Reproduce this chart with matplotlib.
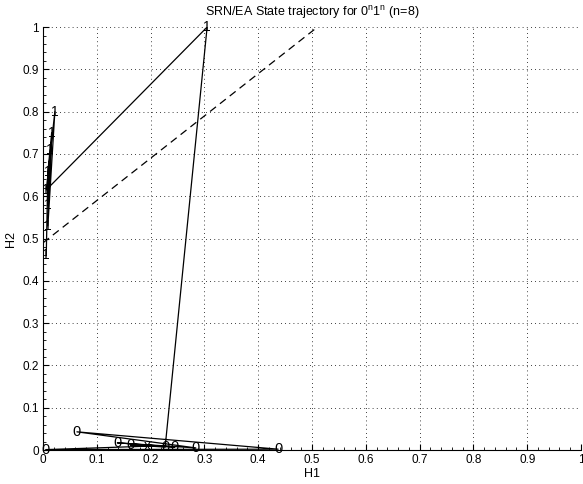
import matplotlib
matplotlib.use("Agg")
import matplotlib.pyplot as plt
from matplotlib.ticker import MultipleLocator

plt.rcParams['font.family'] = ['Liberation Sans', 'DejaVu Sans']

# trajectory states (H1, H2) and the symbol drawn at each
start_h1 = [0.193]
start_h2 = [0.009]
zero_h1 = [0.005, 0.437, 0.063, 0.284, 0.138, 0.245, 0.162, 0.227]
zero_h2 = [0.001, 0.002, 0.043, 0.005, 0.017, 0.007, 0.012, 0.007]
one_h1 = [0.305, 0.006, 0.022, 0.009, 0.016, 0.009, 0.013, 0.009, 0.006]
one_h2 = [1.000, 0.615, 0.800, 0.530, 0.750, 0.580, 0.710, 0.657, 0.460]

# dashed boundary line
bound_h1 = [0.0, 0.51]
bound_h2 = [0.49, 1.0]

ticks = [0, 0.1, 0.2, 0.3, 0.4, 0.5, 0.6, 0.7, 0.8, 0.9, 1]
tick_labels = ['0', '0.1', '0.2', '0.3', '0.4', '0.5', '0.6', '0.7', '0.8', '0.9', '1']

fig = plt.figure(figsize=(5.83, 4.84), dpi=100)
ax = fig.add_axes([0.0738, 0.0702, 0.9228, 0.8738])

h1 = start_h1 + zero_h1 + one_h1
h2 = start_h2 + zero_h2 + one_h2
ax.plot(h1, h2, color='black', lw=0.9)
ax.plot(bound_h1, bound_h2, color='black', lw=0.9, linestyle=(0, (6, 4)))

for x, y in zip(start_h1, start_h2):
    ax.text(x, y, 'x', ha='center', va='center', fontsize=10)
for x, y in zip(zero_h1, zero_h2):
    ax.text(x, y, '0', ha='center', va='center', fontsize=10.5)
for x, y in zip(one_h1, one_h2):
    ax.text(x, y, '1', ha='center', va='center', fontsize=10)

ax.set_xlim(0, 1)
ax.set_ylim(0, 1)
ax.set_xticks(ticks)
ax.set_xticklabels(tick_labels)
ax.set_yticks(ticks)
ax.set_yticklabels(tick_labels)
ax.xaxis.set_minor_locator(MultipleLocator(0.02))
ax.yaxis.set_minor_locator(MultipleLocator(0.02))
ax.tick_params(which='major', direction='in', length=4, width=0.8, labelsize=8.5, pad=3)
ax.tick_params(which='minor', direction='in', length=2, width=0.6)
ax.spines['top'].set_visible(False)
ax.spines['right'].set_visible(False)
ax.grid(True, which='major', color='black', linestyle=(0, (1, 4)), lw=0.6)

ax.set_title('SRN/EA State trajectory for 0$^\\mathregular{n}$1$^\\mathregular{n}$ (n=8)', fontsize=9, pad=8)
ax.set_xlabel('H1', fontsize=9, labelpad=1)
ax.set_ylabel('H2', fontsize=9, labelpad=4)

fig.savefig('out.png', dpi=100)
